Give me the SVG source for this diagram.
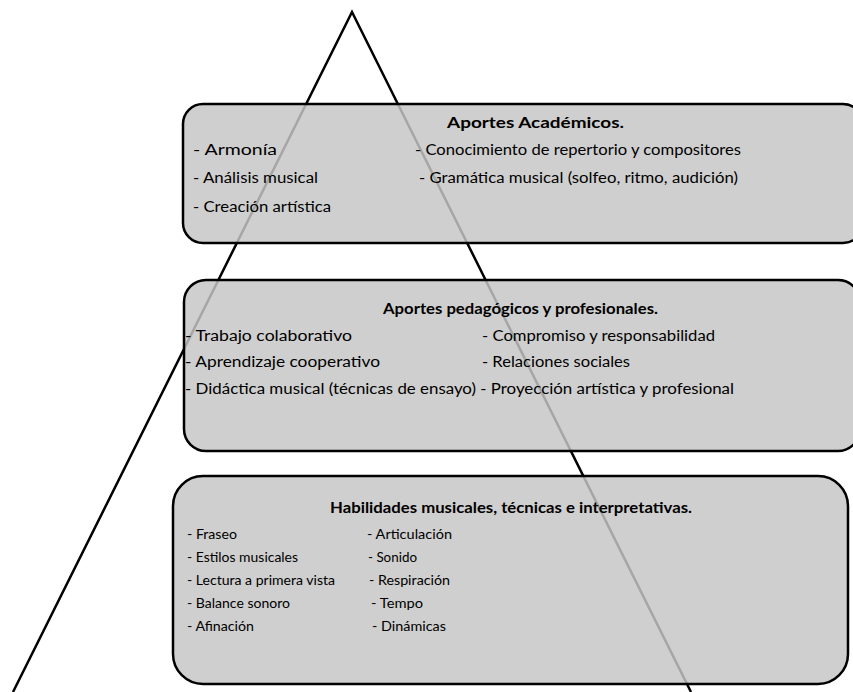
<svg xmlns="http://www.w3.org/2000/svg" width="853" height="692" viewBox="0 0 853 692">
  <style>
    .box { fill: #c6c6c6; fill-opacity: 0.84; stroke: #000; stroke-width: 2.5; }
    .tri { fill: none; stroke: #000; stroke-width: 2.5; stroke-linejoin: miter; }
    text { font-family: Lato, "Open Sans", "Liberation Sans", sans-serif; fill: #000; }
    .t { font-size: 14.5px; font-weight: bold; }
    .i { font-size: 14.5px; }
    .s { font-size: 12.5px; }
  </style>
  <rect width="853" height="692" fill="#fff"/>
  <g id="connectors">
    <polyline class="tri" points="13,692 352,12 691,692"/>
  </g>
  <g id="box-academicos">
    <rect class="box" x="183" y="104" width="680" height="139" rx="20" ry="20"/>
    <text class="t" x="447" y="128" textLength="177" lengthAdjust="spacingAndGlyphs">Aportes Académicos.</text>
    <text class="i" x="193" y="155" textLength="84" lengthAdjust="spacingAndGlyphs">- Armonía</text>
    <text class="i" x="415" y="155" textLength="326" lengthAdjust="spacingAndGlyphs">- Conocimiento de repertorio y compositores</text>
    <text class="i" x="193" y="183" textLength="125" lengthAdjust="spacingAndGlyphs">- Análisis musical</text>
    <text class="i" x="419" y="183" textLength="319" lengthAdjust="spacingAndGlyphs">- Gramática musical (solfeo, ritmo, audición)</text>
    <text class="i" x="193" y="212" textLength="138" lengthAdjust="spacingAndGlyphs">- Creación artística</text>
  </g>
  <g id="box-pedagogicos">
    <rect class="box" x="184" y="280" width="676" height="171" rx="22" ry="22"/>
    <text class="t" x="383" y="314" textLength="275" lengthAdjust="spacingAndGlyphs">Aportes pedagógicos  y profesionales.</text>
    <text class="i" x="185" y="341" textLength="167" lengthAdjust="spacingAndGlyphs">- Trabajo colaborativo</text>
    <text class="i" x="482" y="341" textLength="233" lengthAdjust="spacingAndGlyphs">- Compromiso y responsabilidad</text>
    <text class="i" x="185" y="367" textLength="195" lengthAdjust="spacingAndGlyphs">- Aprendizaje cooperativo</text>
    <text class="i" x="482" y="367" textLength="148" lengthAdjust="spacingAndGlyphs">- Relaciones sociales</text>
    <text class="i" x="185" y="394" textLength="549" lengthAdjust="spacingAndGlyphs">- Didáctica musical (técnicas de ensayo) - Proyección artística y profesional</text>
  </g>
  <g id="box-habilidades">
    <rect class="box" x="173" y="476" width="675" height="208" rx="30" ry="30"/>
    <text class="t" x="330" y="513" textLength="362" lengthAdjust="spacingAndGlyphs">Habilidades musicales, técnicas e interpretativas.</text>
    <text class="s" x="187" y="539" textLength="50" lengthAdjust="spacingAndGlyphs">- Fraseo</text>
    <text class="s" x="187" y="562" textLength="111" lengthAdjust="spacingAndGlyphs">- Estilos musicales</text>
    <text class="s" x="187" y="585" textLength="148" lengthAdjust="spacingAndGlyphs">- Lectura a primera vista</text>
    <text class="s" x="187" y="608" textLength="103" lengthAdjust="spacingAndGlyphs">- Balance sonoro</text>
    <text class="s" x="187" y="631" textLength="67" lengthAdjust="spacingAndGlyphs">- Afinación</text>
    <text class="s" x="367" y="539" textLength="85" lengthAdjust="spacingAndGlyphs">- Articulación</text>
    <text class="s" x="368" y="562" textLength="49" lengthAdjust="spacingAndGlyphs">- Sonido</text>
    <text class="s" x="369" y="585" textLength="81" lengthAdjust="spacingAndGlyphs">- Respiración</text>
    <text class="s" x="371" y="608" textLength="52" lengthAdjust="spacingAndGlyphs">- Tempo</text>
    <text class="s" x="372" y="631" textLength="74" lengthAdjust="spacingAndGlyphs">- Dinámicas</text>
  </g>
</svg>
